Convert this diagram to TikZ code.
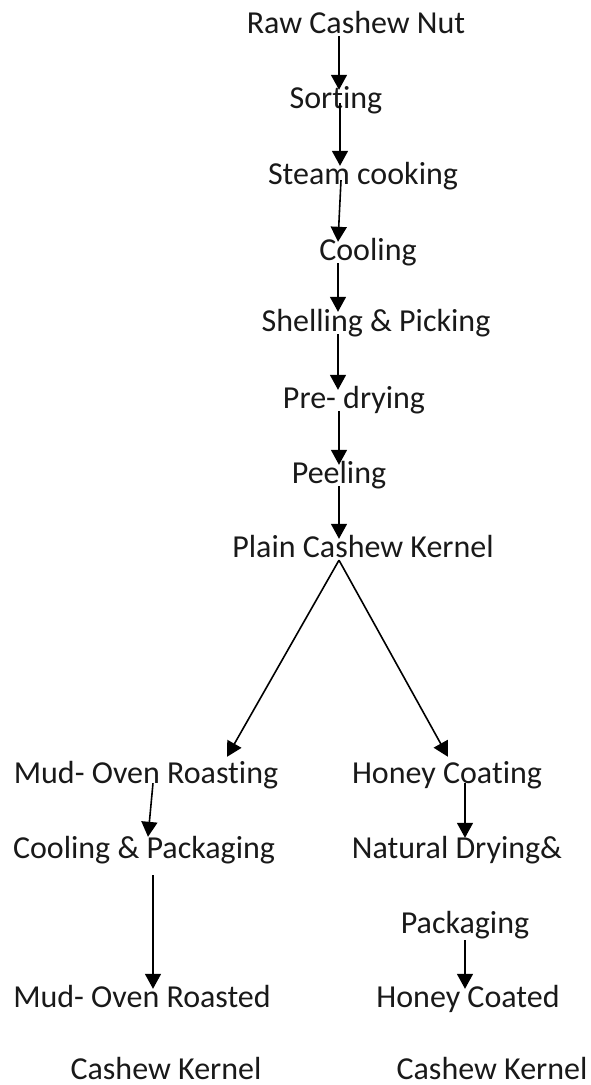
\documentclass[tikz,border=0pt]{standalone}
\usepackage{fontspec}
\setmainfont{Carlito}[Ligatures={NoCommon,NoRequired,NoContextual}]
\usetikzlibrary{arrows.meta}
\begin{document}
\begin{tikzpicture}[x=1pt,y=-1pt,
  lbl/.style={anchor=base,inner sep=0pt,text height=18pt,text depth=3pt,font=\fontsize{32}{36}\selectfont,text=black!90},
  arr/.style={line width=1.6pt,-{Triangle[width=16pt,length=15pt]}}]
\useasboundingbox (0,0) rectangle (591,1085);
\node[lbl] (raw) at (356,33) {Raw Cashew Nut};
\node[lbl] (sort) at (336,108) {Sorting};
\node[lbl] (steam) at (363,184) {Steam cooking};
\node[lbl] (cool) at (368,260) {Cooling};
\node[lbl] (shell) at (376,331) {Shelling \& Picking};
\node[lbl] (pre) at (354,408) {Pre- drying};
\node[lbl] (peel) at (339,483) {Peeling};
\node[lbl] (plain) at (363,557) {Plain Cashew Kernel};
\node[lbl] (mud) at (146,783) {Mud- Oven Roasting};
\node[lbl] (honey) at (447,783) {Honey Coating};
\node[lbl] (coolpack) at (144,858) {Cooling \& Packaging};
\node[lbl] (nat) at (457,858) {Natural Drying\&};
\node[lbl] (pack) at (465,933) {Packaging};
\node[lbl] (mudr) at (142,1007) {Mud- Oven Roasted};
\node[lbl] (honeyc) at (468,1007) {Honey Coated};
\node[lbl,text depth=1pt] (ck1) at (166,1079) {Cashew Kernel};
\node[lbl,text depth=1pt] (ck2) at (492,1079) {Cashew Kernel};
\draw[arr] ([xshift=-17pt]raw.south) -- ([xshift=3pt]sort.north);
\draw[arr] ([xshift=4pt,yshift=8pt]sort.south) -- ([xshift=-23pt]steam.north);
\draw[arr] ([xshift=-22pt,yshift=7pt]steam.south) -- ([xshift=-30pt]cool.north);
\draw[arr] ([xshift=-30pt]cool.south) -- ([xshift=-38pt,yshift=1pt]shell.north);
\draw[arr] ([xshift=-38pt]shell.south) -- ([xshift=-16pt]pre.north);
\draw[arr] ([xshift=-15pt]pre.south) -- (peel.north);
\draw[arr] (peel.south) -- ([xshift=-24pt]plain.north);
\draw[arr] ([xshift=-24pt]plain.south) -- ([xshift=81pt,yshift=8pt]mud.north);
\draw[arr] ([xshift=-24pt]plain.south) -- ([xshift=1pt,yshift=8pt]honey.north);
\draw[arr] ([xshift=7pt,yshift=3pt]mud.south) -- ([xshift=4pt,yshift=3pt]coolpack.north);
\draw[arr] ([xshift=9pt,yshift=-14pt]coolpack.south) -- ([xshift=11pt]mudr.north);
\draw[arr] ([xshift=18pt,yshift=3pt]honey.south) -- ([xshift=8pt,yshift=2pt]nat.north);
\draw[arr] ([yshift=-4pt]pack.south) -- ([xshift=-3pt]honeyc.north);
\end{tikzpicture}
\end{document}
